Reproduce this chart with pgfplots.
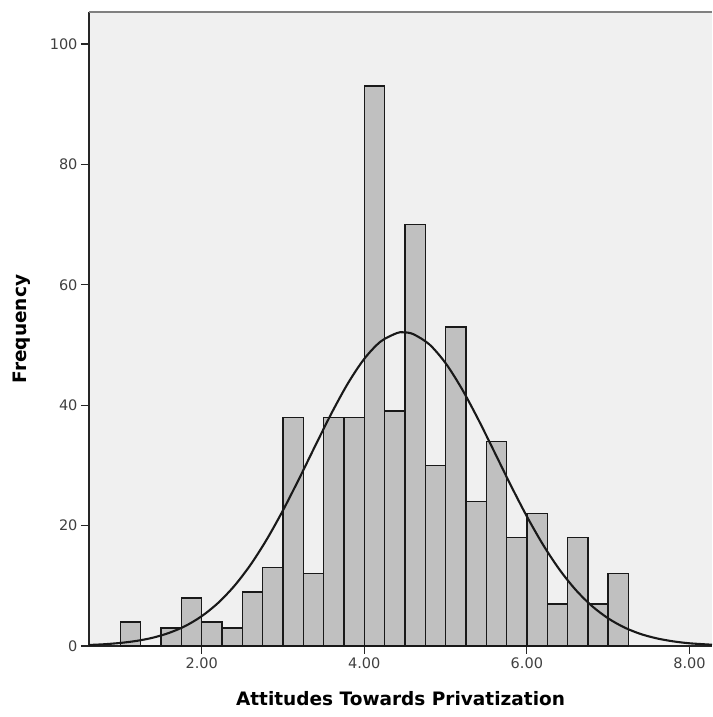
\documentclass[border=0pt]{standalone}
\usepackage{fontspec}
\setmainfont{DejaVu Sans}
\usepackage{pgfplots}
\pgfplotsset{compat=1.18}
\definecolor{plotbg}{HTML}{F0F0F0}
\definecolor{barfill}{HTML}{C0C0C0}
\begin{document}
\begin{tikzpicture}
\begin{axis}[
  at={(0,0)}, anchor=south west,
  scale only axis, width=623pt, height=634pt,
  xmin=0.614, xmax=8.277, ymin=0, ymax=105.3,
  axis lines*=left,
  axis line style={black!85, line width=1.4pt},
  axis background/.style={fill=plotbg},
  tick align=outside, major tick length=8pt,
  tick style={black!85, line width=1.2pt},
  xtick={2,4,6,8}, ytick={0,20,...,100},
  /pgf/number format/assume math mode=true,
  x tick label style={/pgf/number format/fixed,
    /pgf/number format/fixed zerofill, /pgf/number format/precision=2},
  tick label style={font=\fontsize{14.5}{16}\selectfont, text=black!75},
  xlabel={Attitudes Towards Privatization}, ylabel={Frequency},
  label style={font=\fontsize{18.5}{20}\selectfont\bfseries},
  xlabel style={at={(axis description cs:0.5,-0.0931)}, anchor=base},
  ylabel style={at={(axis description cs:-0.1075,0.5)}, anchor=center},
]
% histogram, bin width 0.25 (left edges)
\addplot[ybar interval, fill=barfill, draw=black!90, line width=1.4pt] coordinates {
  (1.00,4) (1.25,0) (1.50,3) (1.75,8) (2.00,4) (2.25,3) (2.50,9) (2.75,13)
  (3.00,38) (3.25,12) (3.50,38) (3.75,38) (4.00,93) (4.25,39) (4.50,70)
  (4.75,30) (5.00,53) (5.25,24) (5.50,34) (5.75,18) (6.00,22) (6.25,7)
  (6.50,18) (6.75,7) (7.00,12) (7.25,12)};
% fitted normal curve
\addplot[smooth, black!90, line width=2.1pt] coordinates {
  (0.614,0.17) (0.8,0.29) (1.0,0.51) (1.2,0.85) (1.4,1.38) (1.6,2.18)
  (1.8,3.33) (2.0,4.95) (2.2,7.13) (2.4,9.95) (2.6,13.47) (2.8,17.69)
  (3.0,22.53) (3.2,27.83) (3.4,33.34) (3.6,38.74) (3.8,43.65) (4.0,47.70)
  (4.2,50.56) (4.4,51.97) (4.48,52.1) (4.6,51.81) (4.8,50.10) (5.0,46.98)
  (5.2,42.72) (5.4,37.68) (5.6,32.24) (5.8,26.74) (6.0,21.52) (6.2,16.79)
  (6.4,12.71) (6.6,9.33) (6.8,6.64) (7.0,4.59) (7.2,3.07) (7.4,1.99)
  (7.6,1.26) (7.8,0.77) (8.0,0.45) (8.277,0.21)};
\draw[black!50, line width=1.4pt] (rel axis cs:0,1) -- (rel axis cs:1,1);
\end{axis}
\pgfresetboundingbox
\path[use as bounding box] (-89pt,-71pt) rectangle (623pt,646pt);
\end{tikzpicture}
\end{document}
